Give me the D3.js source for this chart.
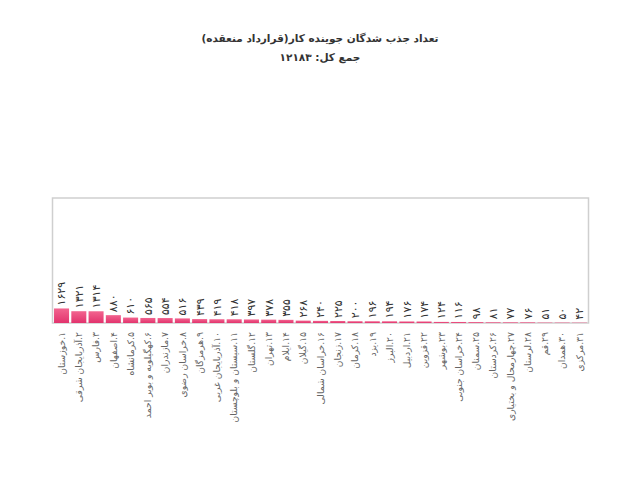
<!DOCTYPE html>
<html lang="fa">
<head>
<meta charset="UTF-8"/>
<title>تعداد جذب شدگان جوینده کار</title>
<script src="https://d3js.org/d3.v7.min.js"></script>
<style>
    body { margin: 0; background: #fff; }
    text { font-family: "DejaVu Sans", sans-serif; }
</style>
</head>
<body>
<div id="chart"></div>
<script>
    // provinces, in rank order
    var provinces = ["خوزستان", "آذربایجان شرقی", "فارس", "اصفهان", "کرمانشاه",
        "کهگیلویه و بویر احمد", "مازندران", "خراسان رضوی", "هرمزگان", "آذربایجان غربی",
        "سیستان و بلوچستان", "گلستان", "تهران", "ایلام", "گیلان", "خراسان شمالی",
        "زنجان", "کرمان", "یزد", "البرز", "اردبیل", "قزوین", "بوشهر", "خراسان جنوبی",
        "سمنان", "کردستان", "چهارمحال و بختیاری", "لرستان", "قم", "همدان", "مرکزی"];

    var hired = [1629, 1321, 1314, 880, 610, 565, 554, 516, 439, 419, 418, 397, 378, 355,
        268, 240, 225, 200, 196, 194, 176, 174, 124, 116, 98, 81, 77, 76, 51, 50, 42];

    var titleText = "تعداد جذب شدگان جوینده کار(قرارداد منعقده)";
    var totalText = "جمع کل:";

    var width = 640, height = 480;
    var plotLeft = 53, plotRight = 588, plotTop = 198, plotBottom = 323;

    // persian digits
    function fa(n) {
        return String(n).replace(/[0-9]/g, function (c) { return "۰۱۲۳۴۵۶۷۸۹"[+c]; });
    }

    var svg = d3.select("#chart").append("svg").attr("width", width).attr("height", height);

    var grad = svg.append("defs").append("linearGradient").attr("id", "barFill")
        .attr("x1", 0).attr("y1", 0).attr("x2", 0).attr("y2", 1);
    grad.append("stop").attr("offset", "0%").attr("stop-color", "#f2648f");
    grad.append("stop").attr("offset", "100%").attr("stop-color", "#e2336d");

    var xScale = d3.scaleBand().domain(d3.range(provinces.length))
        .range([plotLeft, plotRight]).paddingInner(0.13).paddingOuter(0.06);
    var yScale = d3.scaleLinear().domain([0, 14000]).range([plotBottom, plotTop]);

    // title, in a left-to-right embedding so the last bracket sits on the right like the original
    svg.append("text").attr("x", width / 2).attr("y", 42)
        .attr("direction", "ltr").attr("unicode-bidi", "embed")
        .attr("text-anchor", "middle").attr("font-size", 10.5).attr("font-weight", "bold")
        .attr("fill", "#333").text("\u202A" + titleText + "\u202C");
    svg.append("text").attr("x", width / 2).attr("y", 61)
        .attr("text-anchor", "middle").attr("font-size", 10.5).attr("font-weight", "bold")
        .attr("fill", "#333").text(totalText + " " + fa(d3.sum(hired)));

    // plot box
    svg.append("rect").attr("x", plotLeft - 0.5).attr("y", plotTop)
        .attr("width", plotRight - plotLeft + 1).attr("height", plotBottom - plotTop)
        .attr("fill", "none").attr("stroke", "#cfcfcf").attr("stroke-width", 1.5);

    svg.selectAll(".bar").data(hired).enter().append("rect")
        .attr("class", "bar")
        .attr("x", function (d, i) { return xScale(i); })
        .attr("y", function (d) { return yScale(d); })
        .attr("width", xScale.bandwidth())
        .attr("height", function (d) { return plotBottom - yScale(d); })
        .attr("fill", "url(#barFill)");

    // values above bars, rotated
    svg.selectAll(".val").data(hired).enter().append("text")
        .attr("class", "val")
        .attr("transform", function (d, i) {
            return "translate(" + (xScale(i) + xScale.bandwidth() / 2) + "," + (yScale(d) - 3) + ") rotate(-90)";
        })
        .attr("dy", "0.35em")
        .attr("font-size", 11).attr("letter-spacing", 1).attr("fill", "#333")
        .text(function (d) { return fa(d); });

    // category labels under the box, right-to-left, reading downwards
    svg.selectAll(".cat").data(provinces).enter().append("text")
        .attr("class", "cat")
        .attr("direction", "rtl")
        .attr("transform", function (d, i) {
            return "translate(" + (xScale(i) + xScale.bandwidth() / 2) + "," + (plotBottom + 9) + ") rotate(-90)";
        })
        .attr("dy", "0.35em")
        .attr("font-size", 9.2).attr("fill", "#666")
        .text(function (d, i) { return fa(i + 1) + "." + d; })
        .each(function () {
            // put the right end of the text at the box edge
            var b = this.getBBox();
            d3.select(this).attr("x", -(b.x + b.width));
        });
</script>
</body>
</html>
